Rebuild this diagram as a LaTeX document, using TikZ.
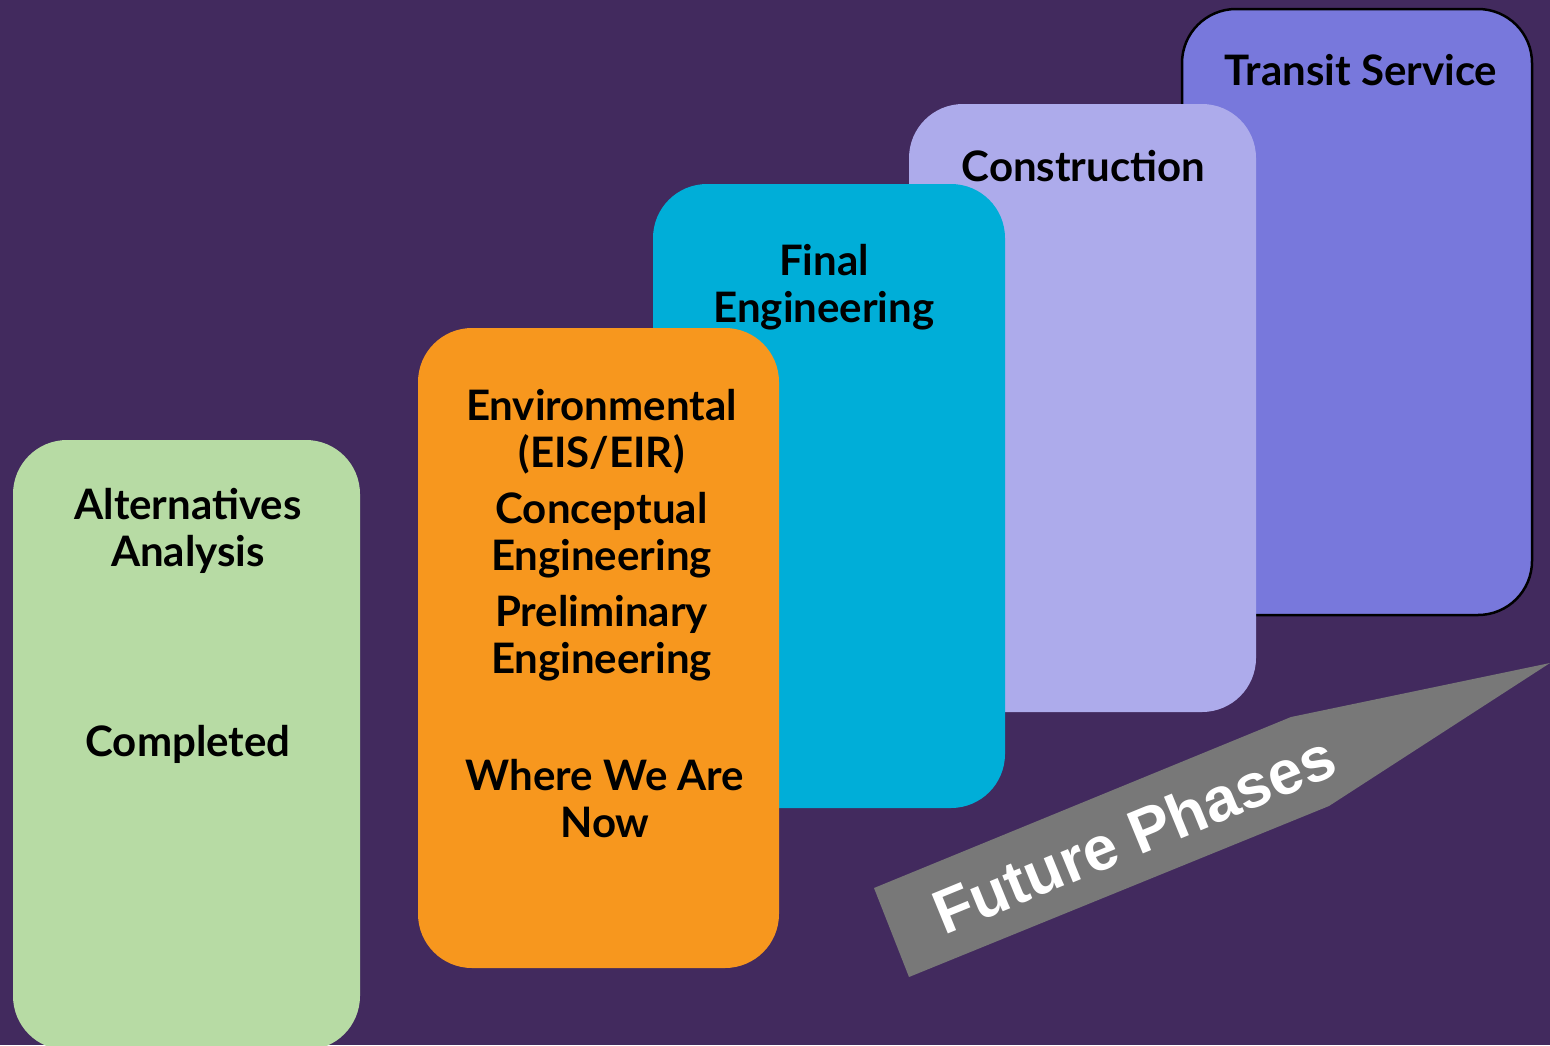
\documentclass[tikz,border=0pt]{standalone}
\usepackage{fontspec}
\setmainfont{Lato}
\newfontfamily\arrowfont{Liberation Sans}
\definecolor{bgpurple}{HTML}{422A5E}
\definecolor{cgreen}{HTML}{B7DBA4}
\definecolor{corange}{HTML}{F7971E}
\definecolor{ccyan}{HTML}{00AED8}
\definecolor{clav}{HTML}{ADABEB}
\definecolor{cpurple}{HTML}{7878DC}
\definecolor{cgray}{HTML}{787878}
\tikzset{
  phase/.style={rounded corners=54pt, inner sep=0pt, outer sep=0pt},
  lbl/.style={font=\fontsize{42}{47}\selectfont\bfseries, text=black, align=center, inner sep=0pt},
  arrowlbl/.style={font=\fontsize{62}{66}\selectfont\arrowfont\bfseries, text=white, inner sep=0pt}
}
\begin{document}
\begin{tikzpicture}[x=1pt,y=-1pt]
\fill[bgpurple] (0,0) rectangle (1550,1045);
\useasboundingbox (0,0) rectangle (1550,1045);
% boxes, back to front
\draw[phase, fill=cpurple, draw=black, line width=2.5pt] (1182,9) rectangle (1532,615);
\node[phase, fill=clav, minimum width=347pt, minimum height=608pt] (construction) at (1082.5,408) {};
\node[phase, fill=ccyan, minimum width=352pt, minimum height=624pt] (final) at (829,496) {};
\node[phase, fill=corange, minimum width=361pt, minimum height=640pt] (env) at (598.5,648) {};
\node[phase, fill=cgreen, minimum width=347pt, minimum height=610pt] (alt) at (186.5,745) {};
% labels
\node[lbl] (t1) at (1361,70) {Transit Service};
\node[lbl] (t2) at (1083.5,166) {Construction};
\node[lbl] (t3) at (824,287) {Final\\Engineering};
\node[lbl] (t4) at (601.5,432) {Environmental\\(EIS/EIR)};
\node[lbl] (t5) at (601.5,535) {Conceptual\\Engineering};
\node[lbl] (t6) at (601.5,638) {Preliminary\\Engineering};
\node[lbl] (t7) at (605,799) {Where We Are\\Now};
\node[lbl] (t8) at (188,531) {Alternatives\\Analysis};
\node[lbl] (t9) at (188,744) {Completed};
% arrow
\coordinate (a1) at (874,888);
\coordinate (a2) at (1291,717);
\coordinate (a3) at (1550,663);
\coordinate (a4) at (1329,806);
\coordinate (a5) at (909,977);
\fill[cgray] (a1) -- (a2) -- (a3) -- (a4) -- (a5) -- cycle;
\node[arrowlbl, rotate=22.3] (fp) at (1134,834) {Future Phases};
\end{tikzpicture}
\end{document}
